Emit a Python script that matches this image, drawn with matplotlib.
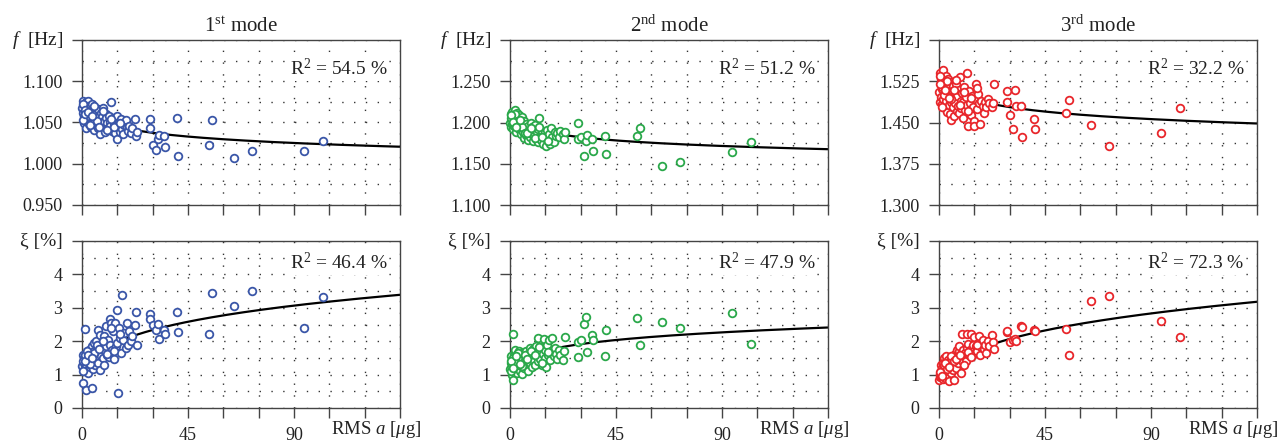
import numpy as np
import matplotlib
matplotlib.use('Agg')
import matplotlib.pyplot as plt
from matplotlib.ticker import FixedLocator

plt.rcParams['font.family'] = ['Liberation Serif', 'DejaVu Serif']
plt.rcParams['mathtext.fontset'] = 'custom'
plt.rcParams['mathtext.rm'] = 'Liberation Serif'
plt.rcParams['mathtext.it'] = 'Liberation Serif:italic'

# RMS acceleration of each event [ug] (same events for all modes)
x_dense = [0.2, 0.4, 0.5, 0.7, 0.9, 1.0, 1.2, 1.4, 1.5, 1.7,
           1.9, 2.1, 2.2, 2.4, 2.6, 2.8, 3.0, 3.1, 3.3, 3.5,
           3.7, 3.9, 4.1, 4.3, 4.5, 4.7, 4.9, 5.1, 5.3, 5.5,
           5.8, 6.0, 6.2, 6.5, 6.7, 7.0, 7.2, 7.5, 7.8, 8.0,
           8.3, 8.6, 8.9, 9.2, 9.5, 9.8, 10.1, 10.4, 10.7, 11.0,
           11.3, 11.7, 12.0, 12.4, 12.8, 13.1, 13.5, 13.9, 14.3, 14.7,
           15.0, 15.4, 15.8, 16.2, 16.6, 17.0, 17.5, 18.0, 18.5, 19.0,
           19.5, 20.0, 20.6, 21.2, 0.3, 1.1, 2.0, 3.6, 5.0, 6.4,
           0.6, 1.3, 2.7, 4.4, 7.3, 8.8, 10.5, 12.2, 13.7, 16.0]
x_out = [22.3, 22.8, 23.2, 28.7, 28.9, 30.0, 31.5, 32.4, 32.7, 34.9,
         35.2, 40.4, 40.6, 54.0, 55.0, 64.4, 72.0, 94.2, 102.2]

# natural frequency [Hz]
f1_dense = [1.068, 1.062, 1.076, 1.049, 1.058, 1.071, 1.064, 1.055, 1.043, 1.075,
            1.060, 1.066, 1.052, 1.076, 1.070, 1.057, 1.048, 1.063, 1.054, 1.067,
            1.059, 1.045, 1.050, 1.072, 1.061, 1.056, 1.041, 1.064, 1.052, 1.068,
            1.047, 1.060, 1.055, 1.050, 1.066, 1.043, 1.058, 1.036, 1.053, 1.062,
            1.048, 1.057, 1.068, 1.045, 1.052, 1.039, 1.060, 1.055, 1.049, 1.043,
            1.058, 1.051, 1.046, 1.075, 1.040, 1.056, 1.048, 1.037, 1.053, 1.030,
            1.058, 1.044, 1.050, 1.038, 1.054, 1.042, 1.036, 1.047, 1.053, 1.044,
            1.040, 1.046, 1.037, 1.043, 1.072, 1.065, 1.058, 1.047, 1.070, 1.052,
            1.053, 1.060, 1.063, 1.058, 1.044, 1.064, 1.041, 1.054, 1.045, 1.049]
f1_out = [1.054, 1.034, 1.039, 1.054, 1.043, 1.0226, 1.017, 1.030, 1.035, 1.034,
          1.0206, 1.0556, 1.0089, 1.0226, 1.0536, 1.0065, 1.0157, 1.0157, 1.027]

f2_dense = [1.200, 1.210, 1.195, 1.205, 1.213, 1.198, 1.208, 1.192, 1.203, 1.211,
            1.196, 1.215, 1.201, 1.207, 1.189, 1.204, 1.212, 1.197, 1.193, 1.206,
            1.200, 1.209, 1.191, 1.203, 1.197, 1.186, 1.207, 1.194, 1.199, 1.188,
            1.202, 1.181, 1.195, 1.190, 1.198, 1.185, 1.193, 1.179, 1.196, 1.188,
            1.191, 1.182, 1.199, 1.186, 1.194, 1.178, 1.190, 1.184, 1.197, 1.180,
            1.188, 1.176, 1.192, 1.206, 1.183, 1.179, 1.190, 1.174, 1.185, 1.188,
            1.181, 1.172, 1.191, 1.177, 1.186, 1.174, 1.193, 1.183, 1.176, 1.189,
            1.184, 1.187, 1.182, 1.190, 1.206, 1.199, 1.210, 1.202, 1.194, 1.187,
            1.209, 1.201, 1.195, 1.203, 1.187, 1.193, 1.181, 1.195, 1.183, 1.178]
f2_out = [1.1856, 1.180, 1.188, 1.1796, 1.200, 1.183, 1.160, 1.177, 1.185, 1.180,
          1.165, 1.1836, 1.1616, 1.1836, 1.1936, 1.1468, 1.1524, 1.1648, 1.176]

f3_dense = [1.505, 1.540, 1.488, 1.522, 1.497, 1.530, 1.511, 1.483, 1.518, 1.493,
            1.545, 1.502, 1.527, 1.476, 1.514, 1.490, 1.535, 1.507, 1.469, 1.521,
            1.498, 1.530, 1.481, 1.512, 1.466, 1.503, 1.524, 1.487, 1.455, 1.509,
            1.478, 1.516, 1.494, 1.462, 1.505, 1.485, 1.520, 1.471, 1.499, 1.480,
            1.510, 1.468, 1.532, 1.490, 1.476, 1.503, 1.459, 1.488, 1.515, 1.472,
            1.496, 1.481, 1.540, 1.444, 1.508, 1.486, 1.463, 1.498, 1.478, 1.453,
            1.444, 1.492, 1.520, 1.474, 1.501, 1.485, 1.447, 1.490, 1.480, 1.468,
            1.487, 1.478, 1.492, 1.485, 1.535, 1.515, 1.500, 1.525, 1.492, 1.509,
            1.520, 1.478, 1.510, 1.495, 1.528, 1.482, 1.505, 1.471, 1.494, 1.512]
f3_out = [1.478, 1.486, 1.5208, 1.4875, 1.5069, 1.4645, 1.439, 1.509, 1.4796, 1.4796,
          1.424, 1.457, 1.439, 1.468, 1.4905, 1.4458, 1.408, 1.4306, 1.4766]

# damping ratio [%]
xi1_dense = [1.25, 0.74, 1.60, 1.10, 1.35, 1.50, 2.37, 1.20, 0.55, 1.65,
             1.30, 1.45, 1.15, 1.70, 1.05, 1.55, 1.38, 1.75, 1.22, 1.48,
             1.62, 1.30, 0.60, 1.85, 1.40, 1.18, 1.70, 1.52, 1.95, 1.28,
             1.60, 2.02, 1.45, 1.75, 2.35, 1.35, 1.90, 1.15, 2.20, 1.55,
             1.80, 1.95, 1.50, 2.15, 1.28, 1.70, 2.45, 1.85, 1.60, 2.05,
             1.52, 2.65, 1.90, 2.53, 1.75, 2.30, 1.48, 2.55, 1.85, 2.92,
             1.95, 0.46, 2.40, 2.10, 1.65, 3.37, 2.05, 2.25, 1.80, 2.53,
             1.90, 2.30, 2.00, 2.15, 1.40, 1.58, 1.72, 1.32, 1.65, 1.88,
             1.12, 1.42, 1.60, 1.50, 1.78, 2.00, 1.62, 2.40, 1.70, 2.22]
xi1_out = [2.48, 2.86, 1.90, 2.80, 2.67, 2.50, 2.33, 2.52, 2.06, 2.33,
           2.23, 2.87, 2.29, 2.23, 3.45, 3.06, 3.50, 2.40, 3.31]

xi2_dense = [1.18, 1.35, 1.55, 1.00, 1.28, 1.45, 2.22, 0.83, 1.25, 1.60,
             1.40, 1.15, 1.75, 1.30, 1.50, 1.05, 1.62, 1.38, 1.20, 1.48,
             1.72, 1.32, 1.10, 1.58, 1.42, 1.25, 1.65, 1.02, 1.50, 1.35,
             1.68, 1.20, 1.55, 1.40, 1.72, 1.28, 1.50, 1.62, 1.12, 1.45,
             1.80, 1.35, 1.60, 1.22, 1.52, 1.78, 1.42, 1.65, 1.30, 1.85,
             1.55, 1.40, 2.09, 1.70, 1.48, 1.82, 1.28, 1.62, 2.07, 1.50,
             1.75, 1.22, 1.90, 1.58, 2.05, 1.45, 1.70, 2.10, 1.55, 1.80,
             1.62, 1.48, 1.75, 1.58, 1.12, 1.50, 1.38, 1.65, 1.25, 1.58,
             1.42, 1.20, 1.55, 1.32, 1.48, 1.70, 1.58, 1.82, 1.35, 1.68]
xi2_out = [1.44, 1.71, 2.13, 1.52, 1.98, 2.05, 2.52, 2.71, 1.68, 2.19,
           2.05, 1.55, 2.33, 2.68, 1.88, 2.58, 2.39, 2.83, 1.91]

xi3_dense = [0.85, 1.00, 0.92, 1.10, 1.30, 0.95, 1.20, 1.05, 0.88, 1.15,
             1.35, 1.02, 1.50, 0.90, 1.25, 1.42, 1.08, 1.55, 1.18, 0.98,
             1.30, 1.45, 1.12, 0.80, 1.38, 1.22, 1.52, 1.05, 1.40, 1.28,
             1.15, 1.55, 0.85, 1.45, 1.30, 1.62, 1.20, 1.50, 1.75, 1.35,
             1.70, 1.85, 1.48, 1.05, 1.62, 2.23, 1.38, 1.75, 1.55, 1.65,
             1.42, 2.22, 1.80, 1.92, 1.60, 1.75, 2.22, 1.58, 1.88, 1.70,
             2.12, 1.65, 1.85, 1.72, 1.95, 2.17, 1.60, 1.82, 2.04, 1.78,
             1.90, 1.65, 2.02, 1.85, 1.02, 1.12, 1.28, 1.18, 1.55, 1.40,
             1.08, 0.95, 1.35, 1.22, 1.48, 1.58, 1.30, 1.68, 1.52, 1.88]
xi3_out = [2.20, 1.97, 1.76, 2.27, 2.30, 1.97, 2.04, 2.06, 2.00, 2.47,
           2.44, 2.34, 2.31, 2.37, 1.58, 3.20, 3.34, 2.61, 2.12]

# power-law fits y = a * x^b
f_fit_a = [1.0767, 1.2158, 1.5475]
f_fit_b = [-0.0109, -0.00824, -0.01352]
xi_fit_a = [1.007, 1.134, 0.780]
xi_fit_b = [0.2474, 0.1537, 0.2865]

f_r2 = [54.5, 51.2, 32.2]
xi_r2 = [46.4, 47.9, 72.3]

titles = ['1$^{\\mathrm{st}}$ mode', '2$^{\\mathrm{nd}}$ mode', '3$^{\\mathrm{rd}}$ mode']
colors = ['#3a56a8', '#2aa84a', '#e8262b']
x_ticks = [0, 15, 30, 45, 60, 75, 90, 105, 120, 135]
x_ticklabels = ['0', '', '', '45', '', '', '90', '', '', '']
f_ticks = [[0.950, 1.000, 1.050, 1.100, 1.150],
           [1.100, 1.150, 1.200, 1.250, 1.300],
           [1.300, 1.375, 1.450, 1.525, 1.600]]
xi_ticks = [0, 1, 2, 3, 4, 5]

f_vals = [f1_dense + f1_out, f2_dense + f2_out, f3_dense + f3_out]
xi_vals = [xi1_dense + xi1_out, xi2_dense + xi2_out, xi3_dense + xi3_out]
x_all = np.array(x_dense + x_out)

W, H = 1288, 447
fig = plt.figure(figsize=(W / 100, H / 100), dpi=100)
col_left = [82, 510, 939]
col_w = 318
top_row = (40, 205)
bot_row = (241, 408)

spine_col = '#444444'
txt_col = '#222222'
grid_kw = dict(color='#333333', linestyle=(0, (1, 7.5)), linewidth=1.0)
box = dict(facecolor='white', edgecolor='none', pad=1.5)


def style_axis(ax, yt, fmt, xlabels):
    ax.set_xlim(0, 135)
    ax.set_ylim(yt[0], yt[-1])
    ax.set_xticks(x_ticks)
    ax.set_yticks(yt)
    ax.set_yticklabels([fmt.format(v) for v in yt[:-1]] + [''])
    step = yt[1] - yt[0]
    ax.yaxis.set_minor_locator(FixedLocator([v + step / 2 for v in yt[:-1]]))
    ax.tick_params(axis='y', which='minor', length=0)
    ax.tick_params(which='major', direction='out', length=7, width=1.0,
                   color=spine_col, labelsize=13, pad=7, labelcolor=txt_col)
    if xlabels:
        ax.set_xticklabels(x_ticklabels)
        ax.text(1.066, -0.067, 'RMS $a$ [$\\mu$g]', transform=ax.transAxes,
                ha='right', va='top', fontsize=13.5, color=txt_col)
    else:
        ax.set_xticklabels([''] * len(x_ticks))
    ax.grid(True, which='both', axis='y', **grid_kw)
    ax.grid(True, which='major', axis='x', **grid_kw)
    for s in ax.spines.values():
        s.set_color(spine_col)
        s.set_linewidth(1.0)
    ax.set_axisbelow(True)


for i in range(3):
    left = col_left[i] / W
    wid = col_w / W
    ax_f = fig.add_axes([left, 1 - top_row[1] / H, wid, (top_row[1] - top_row[0]) / H])
    ax_x = fig.add_axes([left, 1 - bot_row[1] / H, wid, (bot_row[1] - bot_row[0]) / H])

    xc = np.linspace(2, 135, 300)
    ax_f.plot(xc, f_fit_a[i] * xc ** f_fit_b[i], color='black', lw=1.6, zorder=2)
    ax_f.plot(x_all, f_vals[i], 'o', ms=5.5, mfc='white', mec=colors[i], mew=1.3,
              zorder=3, clip_on=False)
    ax_x.plot(xc, xi_fit_a[i] * xc ** xi_fit_b[i], color='black', lw=1.6, zorder=2)
    ax_x.plot(x_all, xi_vals[i], 'o', ms=5.5, mfc='white', mec=colors[i], mew=1.3,
              zorder=3, clip_on=False)

    style_axis(ax_f, f_ticks[i], '{:.3f}', False)
    style_axis(ax_x, xi_ticks, '{:.0f}', True)

    ax_f.set_title(titles[i], fontsize=15, pad=6, color=txt_col)
    ax_f.text(0.96, 0.83, 'R$^2$ = %.1f %%' % f_r2[i], transform=ax_f.transAxes,
              ha='right', va='center', fontsize=14, color=txt_col, bbox=box, zorder=4)
    ax_x.text(0.96, 0.87, 'R$^2$ = %.1f %%' % xi_r2[i], transform=ax_x.transAxes,
              ha='right', va='center', fontsize=14, color=txt_col, bbox=box, zorder=4)
    ax_f.text(-0.06, 1.0, '$f$  [Hz]', transform=ax_f.transAxes,
              ha='right', va='center', fontsize=14, color=txt_col)
    ax_x.text(-0.06, 1.0, '\u03be [%]', transform=ax_x.transAxes,
              ha='right', va='center', fontsize=14, color=txt_col)

fig.savefig('out.png', dpi=100)
